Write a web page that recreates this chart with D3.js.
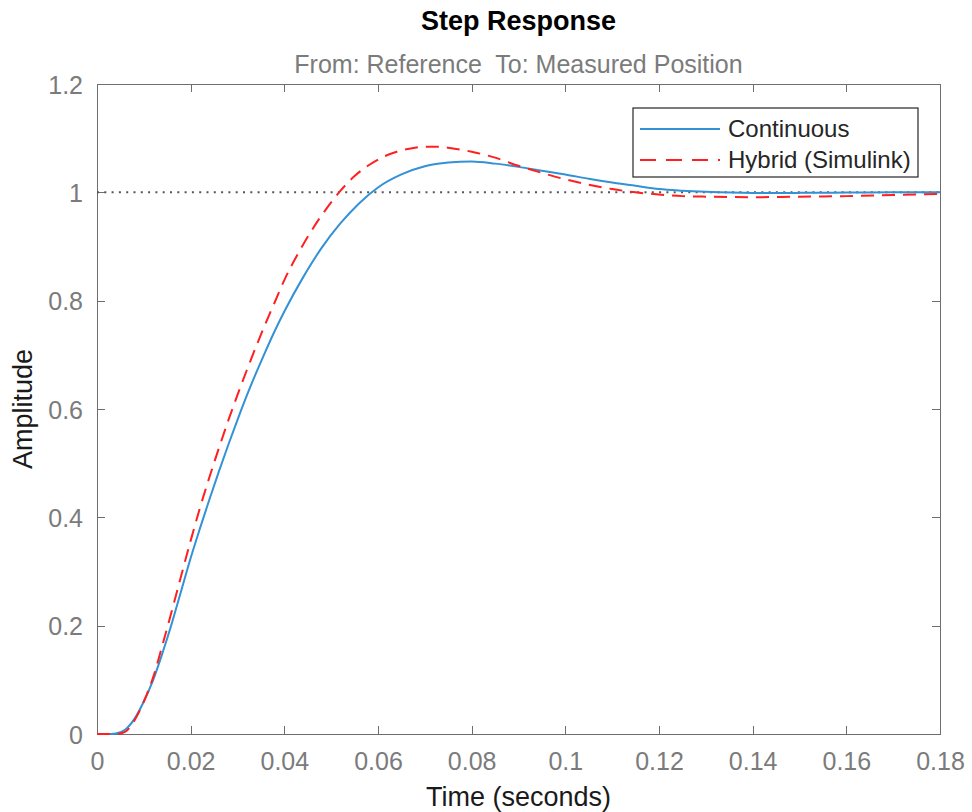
<!DOCTYPE html>
<meta charset="utf-8">
<style>
    body { margin: 0; background: #fff; }
    svg { font-family: "Liberation Sans", Arial, sans-serif; }
    .axis path, .axis line { fill: none; stroke: #6e6e6e; stroke-width: 1.3; shape-rendering: crispEdges; }
    .axis text { font-size: 25px; fill: #7b7b7b; }
</style>
<svg id="chart" width="972" height="812"></svg>
<script src="https://cdn.jsdelivr.net/npm/d3@7"></script>
<script>

    // time samples (seconds)
    var timeCont = [0, 0.002, 0.004, 0.006, 0.008, 0.010, 0.012, 0.014, 0.016, 0.018, 0.020, 0.022, 0.024, 0.026,
        0.028, 0.030, 0.032, 0.034, 0.036, 0.038, 0.040, 0.044, 0.048, 0.052, 0.056, 0.060, 0.065, 0.070, 0.075,
        0.080, 0.085, 0.090, 0.095, 0.100, 0.105, 0.110, 0.115, 0.120, 0.125, 0.130, 0.140, 0.150, 0.160, 0.170, 0.180];
    var ampCont = [0, 0, 0.001, 0.008, 0.028, 0.06, 0.1, 0.15, 0.205, 0.265, 0.325, 0.38, 0.433, 0.484,
        0.533, 0.58, 0.625, 0.667, 0.707, 0.745, 0.78, 0.843, 0.898, 0.943, 0.98, 1.009, 1.033, 1.048, 1.055,
        1.057, 1.053, 1.047, 1.04, 1.033, 1.025, 1.018, 1.012, 1.006, 1.003, 1.001, 0.999, 0.999, 0.9995, 1.0, 1.0];

    var timeHyb = [0, 0.002, 0.004, 0.006, 0.008, 0.010, 0.012, 0.014, 0.016, 0.018, 0.020, 0.022, 0.024, 0.026,
        0.028, 0.030, 0.032, 0.034, 0.036, 0.038, 0.040, 0.043, 0.046, 0.049, 0.052, 0.055, 0.058, 0.061, 0.064,
        0.067, 0.070, 0.073, 0.076, 0.080, 0.085, 0.090, 0.095, 0.100, 0.105, 0.110, 0.115, 0.120, 0.125, 0.130,
        0.140, 0.150, 0.160, 0.170, 0.180];
    var ampHyb = [0, 0, 0, 0.004, 0.025, 0.06, 0.105, 0.165, 0.228, 0.293, 0.357, 0.418, 0.474, 0.527,
        0.578, 0.626, 0.672, 0.716, 0.758, 0.798, 0.838, 0.888, 0.932, 0.97, 1.003, 1.03, 1.05, 1.065, 1.075,
        1.081, 1.084, 1.084, 1.081, 1.075, 1.064, 1.049, 1.036, 1.024, 1.014, 1.006, 1.0, 0.996, 0.993, 0.992,
        0.991, 0.992, 0.993, 0.995, 0.997];

    var seriesNames = ["Continuous", "Hybrid (Simulink)"];
    var xTicks = [0, 0.02, 0.04, 0.06, 0.08, 0.1, 0.12, 0.14, 0.16, 0.18];
    var yTicks = [0, 0.2, 0.4, 0.6, 0.8, 1, 1.2];

    var margin = {top: 84, right: 32, bottom: 78, left: 97};
    var svg = d3.select("#chart"),
        width = +svg.attr("width") - margin.left - margin.right,
        height = +svg.attr("height") - margin.top - margin.bottom;

    var x = d3.scaleLinear().domain([0, 0.18]).range([0, width]);
    var y = d3.scaleLinear().domain([0, 1.2]).range([height, 0]);

    var g = svg.append("g").attr("transform", "translate(" + margin.left + "," + margin.top + ")");

    var fmt = function(d) { return String(+d.toFixed(2)); };

    // axes, ticks pointing inward, box on all four sides
    g.append("g").attr("class", "axis x-bottom")
        .attr("transform", "translate(0," + height + ")")
        .call(d3.axisBottom(x).tickValues(xTicks).tickFormat(fmt).tickSizeInner(-8).tickSizeOuter(0).tickPadding(16));
    g.append("g").attr("class", "axis")
        .call(d3.axisTop(x).tickValues(xTicks).tickFormat("").tickSizeInner(-8).tickSizeOuter(0));
    g.append("g").attr("class", "axis y-left")
        .call(d3.axisLeft(y).tickValues(yTicks).tickFormat(fmt).tickSizeInner(-8).tickSizeOuter(0).tickPadding(14));
    g.append("g").attr("class", "axis")
        .attr("transform", "translate(" + width + ",0)")
        .call(d3.axisRight(y).tickValues(yTicks).tickFormat("").tickSizeInner(-8).tickSizeOuter(0));

    g.selectAll(".x-bottom .tick text").attr("dy", null).attr("y", 36);
    g.selectAll(".y-left .tick text").attr("dy", null).attr("y", 9);

    // steady-state reference line
    g.append("line")
        .attr("x1", 0).attr("x2", width)
        .attr("y1", y(1)).attr("y2", y(1))
        .attr("stroke", "#555")
        .attr("stroke-width", 2)
        .attr("stroke-dasharray", "2,5.3");

    var line = d3.line()
        .x(function(d) { return x(d[0]); })
        .y(function(d) { return y(d[1]); })
        .curve(d3.curveMonotoneX);

    g.append("path")
        .datum(d3.zip(timeCont, ampCont))
        .attr("d", line)
        .attr("fill", "none")
        .attr("stroke", "#3391d6")
        .attr("stroke-width", 2);

    g.append("path")
        .datum(d3.zip(timeHyb, ampHyb))
        .attr("d", line)
        .attr("fill", "none")
        .attr("stroke", "#ff1f1f")
        .attr("stroke-width", 2)
        .attr("stroke-dasharray", "13,8");

    // legend
    var leg = svg.append("g").attr("transform", "translate(633,108)");
    leg.append("rect")
        .attr("width", 285).attr("height", 69)
        .attr("fill", "#fff")
        .attr("stroke", "#262626")
        .attr("stroke-width", 1.2);
    var styles = [{c: "#3391d6", dash: null}, {c: "#ff1f1f", dash: "16,10"}];
    seriesNames.forEach(function(name, i) {
        var cy = 21 + i * 31;
        leg.append("line")
            .attr("x1", 7).attr("x2", 87).attr("y1", cy).attr("y2", cy)
            .attr("stroke", styles[i].c).attr("stroke-width", 2)
            .attr("stroke-dasharray", styles[i].dash);
        leg.append("text")
            .attr("x", 95).attr("y", cy + 8)
            .attr("font-size", 24)
            .attr("fill", "#262626")
            .text(name);
    });

    // titles
    svg.append("text")
        .attr("x", margin.left + width / 2).attr("y", 30)
        .attr("text-anchor", "middle")
        .attr("font-size", 27).attr("font-weight", "bold")
        .attr("fill", "#000")
        .text("Step Response");
    svg.append("text")
        .attr("x", margin.left + width / 2).attr("y", 73)
        .attr("text-anchor", "middle")
        .attr("font-size", 25)
        .attr("fill", "#7b7b7b")
        .style("white-space", "pre")
        .text("From: Reference  To: Measured Position");
    svg.append("text")
        .attr("x", margin.left + width / 2).attr("y", 806)
        .attr("text-anchor", "middle")
        .attr("font-size", 27)
        .attr("fill", "#1a1a1a")
        .text("Time (seconds)");
    svg.append("text")
        .attr("transform", "translate(32," + (margin.top + height / 2) + ") rotate(-90)")
        .attr("text-anchor", "middle")
        .attr("font-size", 27)
        .attr("fill", "#1a1a1a")
        .text("Amplitude");

</script>
